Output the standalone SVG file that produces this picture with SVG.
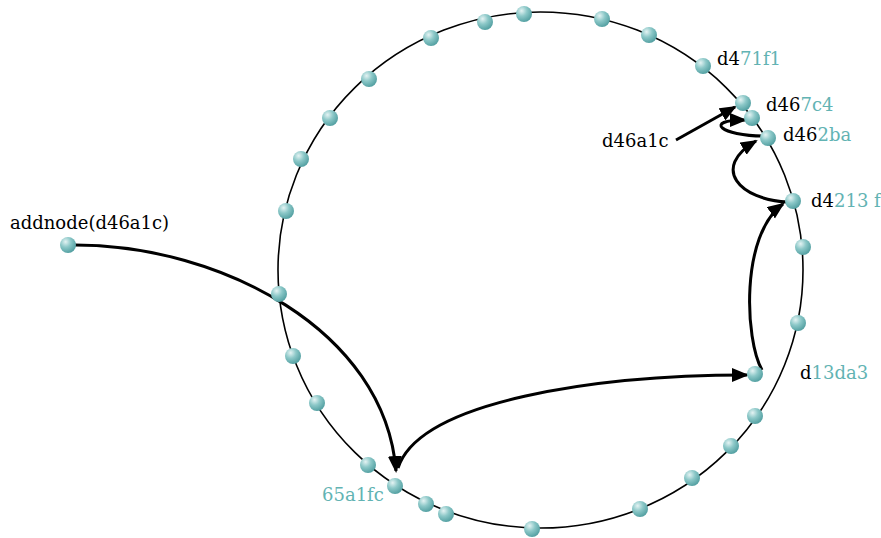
<svg xmlns="http://www.w3.org/2000/svg" width="881" height="538" viewBox="0 0 881 538">
<defs>
<radialGradient id="ball" cx="0.35" cy="0.3" r="0.75">
<stop offset="0" stop-color="#e4f3f3"/>
<stop offset="0.45" stop-color="#8cc8c8"/>
<stop offset="1" stop-color="#4f9d9f"/>
</radialGradient>
<marker id="ah" markerUnits="userSpaceOnUse" markerWidth="20" markerHeight="16" refX="15" refY="7" orient="auto">
<path d="M0,0 L17,7 L0,14 z" fill="#000"/>
</marker>
</defs>
<style>
.ring{fill:none;stroke:#000;stroke-width:1.6}
.n{fill:url(#ball)}
.e{fill:none;stroke:#000;stroke-width:3;marker-end:url(#ah)}
text{font-family:"DejaVu Serif","Liberation Serif",serif;font-size:18px;fill:#000}
.t{fill:#62b3b3}
</style>
<ellipse class="ring" cx="540.5" cy="270" rx="262.5" ry="258"/>
<g id="connectors">
<path class="e" d="M75,245 C220,245 385,330 396,471"/>
<path class="e" d="M398,468 C420,400 600,375 747,375"/>
<path class="e" d="M762,370 C745,340 740,235 783,204"/>
<path class="e" d="M788,202 C740,200 710,168 756,141"/>
<path class="e" d="M763,136 C722,136 702,120 745,120"/>
<path class="e" d="M676,140 L735,107"/>
</g>
<g id="n1"><circle class="n" cx="524" cy="14" r="8"/></g>
<g id="n2"><circle class="n" cx="602" cy="19" r="8"/></g>
<g id="n3"><circle class="n" cx="649" cy="35" r="8"/></g>
<g id="d471f1"><circle class="n" cx="703" cy="66" r="8"/><text x="717" y="65">d4<tspan class="t">71f1</tspan></text></g>
<g id="d467c4"><circle class="n" cx="743" cy="103" r="8"/><text x="766" y="111">d46<tspan class="t">7c4</tspan></text></g>
<g id="n6"><circle class="n" cx="752" cy="118" r="8"/></g>
<g id="d462ba"><circle class="n" cx="768" cy="138" r="8"/><text x="783" y="141">d46<tspan class="t">2ba</tspan></text></g>
<g id="d4213f"><circle class="n" cx="793" cy="201" r="8"/><text x="811" y="207">d4<tspan class="t">213 f</tspan></text></g>
<g id="n9"><circle class="n" cx="803" cy="247" r="8"/></g>
<g id="n10"><circle class="n" cx="798" cy="323" r="8"/></g>
<g id="d13da3"><circle class="n" cx="755" cy="374" r="8"/><text x="800" y="379">d<tspan class="t">13da3</tspan></text></g>
<g id="n12"><circle class="n" cx="755" cy="416" r="8"/></g>
<g id="n13"><circle class="n" cx="731" cy="446" r="8"/></g>
<g id="n14"><circle class="n" cx="692" cy="478" r="8"/></g>
<g id="n15"><circle class="n" cx="640" cy="509" r="8"/></g>
<g id="n16"><circle class="n" cx="532" cy="529" r="8"/></g>
<g id="n17"><circle class="n" cx="446" cy="514" r="8"/></g>
<g id="n18"><circle class="n" cx="426" cy="504" r="8"/></g>
<g id="n65a1fc"><circle class="n" cx="395" cy="486" r="8"/><text class="t" x="322" y="501">65a1fc</text></g>
<g id="n20"><circle class="n" cx="368" cy="465" r="8"/></g>
<g id="n21"><circle class="n" cx="317" cy="403" r="8"/></g>
<g id="n22"><circle class="n" cx="293" cy="356" r="8"/></g>
<g id="n23"><circle class="n" cx="279" cy="294" r="8"/></g>
<g id="n24"><circle class="n" cx="286" cy="211" r="8"/></g>
<g id="n25"><circle class="n" cx="301" cy="159" r="8"/></g>
<g id="n26"><circle class="n" cx="330" cy="118" r="8"/></g>
<g id="n27"><circle class="n" cx="369" cy="79" r="8"/></g>
<g id="n28"><circle class="n" cx="431" cy="38" r="8"/></g>
<g id="n29"><circle class="n" cx="485" cy="22" r="8"/></g>
<g id="addnode"><circle class="n" cx="68" cy="245" r="8"/><text x="10" y="229">addnode(d46a1c)</text></g>
<g id="d46a1c"><text x="602" y="147">d46a1c</text></g>
</svg>
